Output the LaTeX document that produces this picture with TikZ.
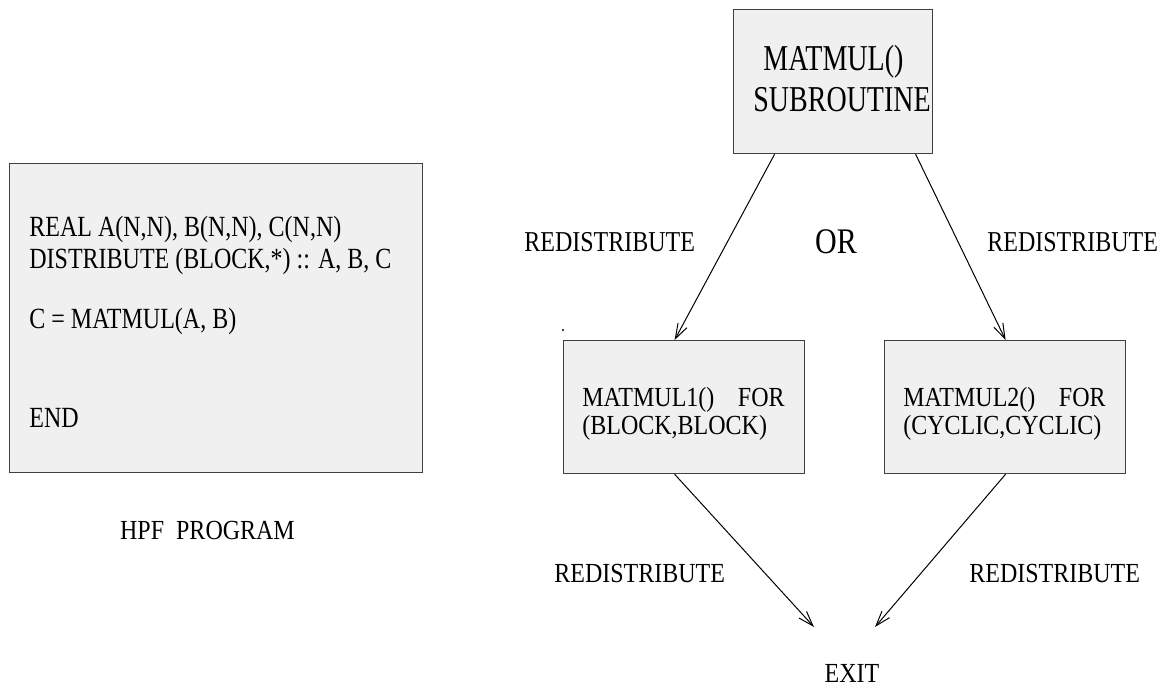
\documentclass[tikz,border=0pt]{standalone}
\usepackage{fontspec}
\setmainfont{Liberation Serif}
\usetikzlibrary{arrows.meta}
% slightly tall lettering, as in the printed figure
\newcommand{\tallbox}[2][1.15]{\scalebox{1}[#1]{#2}}

\begin{document}
\begin{tikzpicture}[x=0.5pt,y=-0.5pt,
  panel/.style={draw=black!75, fill=black!6, line width=0.6pt, inner sep=0pt, anchor=north west},
  txt/.style={inner sep=0pt, anchor=base west, font=\fontsize{12pt}{14pt}\selectfont},
  bigtxt/.style={inner sep=0pt, anchor=base west, font=\fontsize{14pt}{16pt}\selectfont},
  flow/.style={line width=0.5pt, -{Straight Barb[length=7.5pt,width=5pt,line width=0.5pt]}}]

\useasboundingbox (0,0) rectangle (1168,688);

% ---- HPF program listing ----
\node[panel, minimum width=206.5pt, minimum height=154.5pt] (prog) at (9,163) {};
\node[txt] (l1) at (29,237) {\tallbox[1.22]{REAL A(N,N), B(N,N), C(N,N)}};
\node[txt] (l2) at (29,269) {\tallbox[1.22]{DISTRIBUTE (BLOCK,*) :: A, B, C}};
\node[txt] (l3) at (29,329) {\tallbox[1.22]{C = MATMUL(A, B)}};
\node[txt] (l4) at (29,428) {\tallbox[1.22]{END}};
\node[txt, anchor=base] (cap) at (207.5,540) {\tallbox{HPF\ \ PROGRAM}};

% ---- subroutine and its two versions ----
\node[panel, minimum width=99.5pt, minimum height=72pt] (sub) at (733,9) {};
\node[bigtxt] (s1) at (763,71) {\tallbox[1.3]{MATMUL()}};
\node[bigtxt] (s2) at (753,112) {\tallbox[1.3]{SUBROUTINE}};

\node[panel, minimum width=120.5pt, minimum height=66.5pt] (mm1) at (563,340) {};
\node[txt] (a1) at (582,407) {\tallbox{MATMUL1()}};
\node[txt, anchor=base east] (a2) at (785,407) {\tallbox{FOR}};
\node[txt] (a3) at (582,435) {\tallbox{(BLOCK,BLOCK)}};

\node[panel, minimum width=120.5pt, minimum height=66.5pt] (mm2) at (884,340) {};
\node[txt] (b1) at (903,407) {\tallbox{MATMUL2()}};
\node[txt, anchor=base east] (b2) at (1106,407) {\tallbox{FOR}};
\node[txt] (b3) at (903,435) {\tallbox{(CYCLIC,CYCLIC)}};

% ---- labels ----
\node[txt] (r1) at (524,252) {\tallbox[1.2]{REDISTRIBUTE}};
\node[txt] (r2) at (987,252) {\tallbox[1.2]{REDISTRIBUTE}};
\node[inner sep=0pt, anchor=base, font=\fontsize{15pt}{17pt}\selectfont] (or) at (836,254) {\tallbox[1.2]{OR}};
\node[txt] (r3) at (554,583) {\tallbox{REDISTRIBUTE}};
\node[txt] (r4) at (969,583) {\tallbox{REDISTRIBUTE}};
\node[txt, anchor=base] (exit) at (852,683) {\tallbox{EXIT}};

% ---- connectors ----
\coordinate (in1) at (814,627);
\coordinate (in2) at (875,627);
\draw[flow] ([xshift=-29.25pt]sub.south) -- ([xshift=-4.75pt]mm1.north);
\draw[flow] ([xshift=41.25pt]sub.south) -- ([xshift=0.25pt]mm2.north);
\draw[flow] ([xshift=-4.75pt]mm1.south) -- (in1);
\draw[flow] ([xshift=0.25pt]mm2.south) -- (in2);

% small stray mark above the first version box
\fill (563,330) circle (0.6pt);
\end{tikzpicture}
\end{document}
